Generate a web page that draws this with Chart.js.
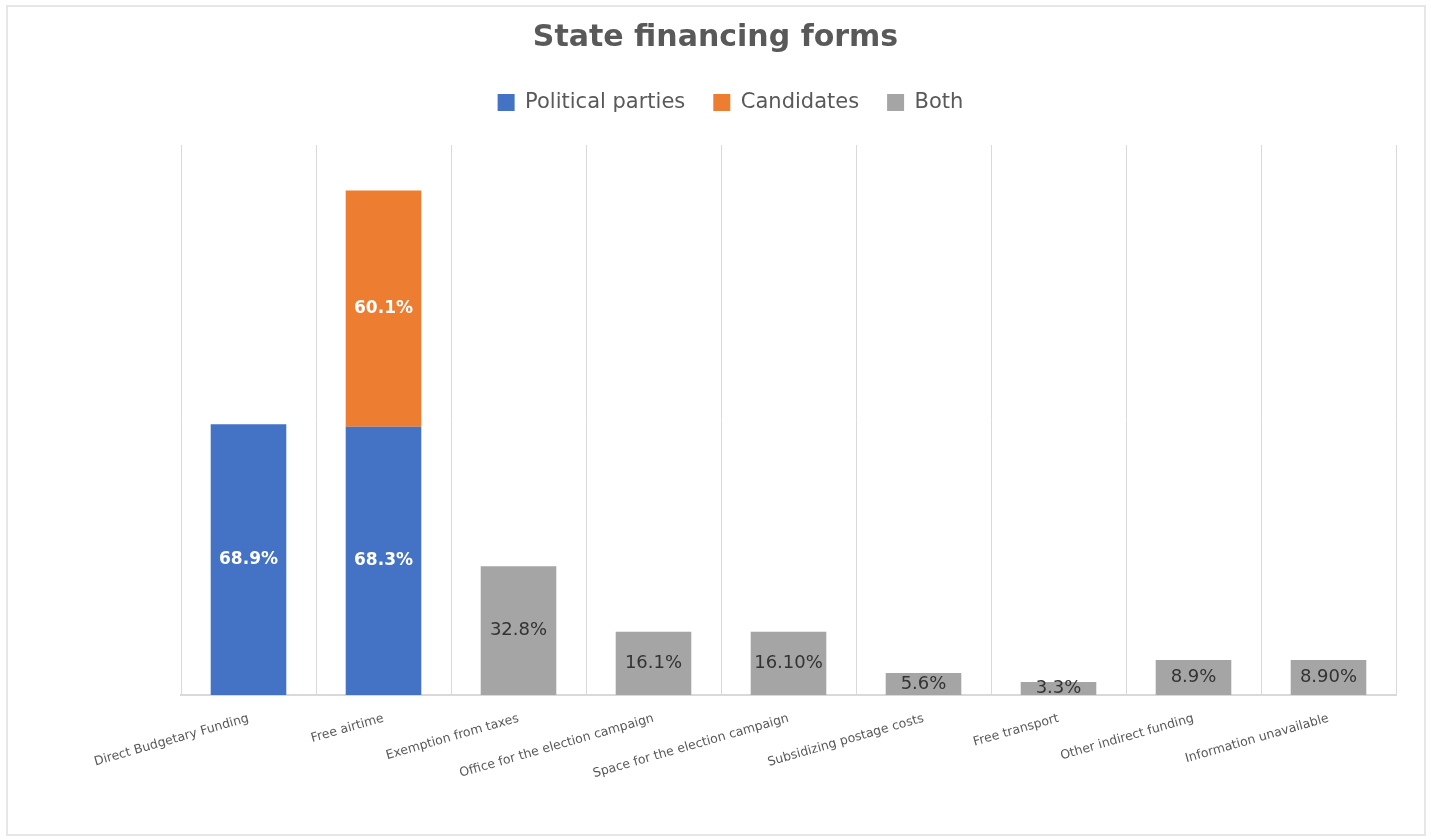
<!DOCTYPE html>
<html>
<head>
<meta charset="utf-8">
<script src="https://cdn.jsdelivr.net/npm/chart.js@4/dist/chart.umd.min.js"></script>
<style>
  html, body { margin: 0; padding: 0; background: #ffffff; }
  #wrap { position: relative; width: 1431px; height: 840px; }
  #frame {
    position: absolute; left: 6px; top: 5px; width: 1416px; height: 827px;
    border: 2px solid #e6e6e6; pointer-events: none;
  }
</style>
</head>
<body>
<div id="wrap">
  <canvas id="chart" width="1431" height="840"></canvas>
  <div id="frame"></div>
</div>
<script>
const categories = [
  "Direct Budgetary Funding",
  "Free airtime",
  "Exemption from taxes",
  "Office for the election campaign",
  "Space for the election campaign",
  "Subsidizing postage costs",
  "Free transport",
  "Other indirect funding",
  "Information unavailable",
];

const partyValues = [68.9, 68.3, null, null, null, null, null, null, null];
const candidateValues = [null, 60.1, null, null, null, null, null, null, null];
const bothValues = [null, null, 32.8, 16.1, 16.1, 5.6, 3.3, 8.9, 8.9];

// label text as printed on the original (some have an extra zero)
const partyLabels = ["68.9%", "68.3%", "", "", "", "", "", "", ""];
const candidateLabels = ["", "60.1%", "", "", "", "", "", "", ""];
const bothLabels = ["", "", "32.8%", "16.1%", "16.10%", "5.6%", "3.3%", "8.9%", "8.90%"];

const FONT = "'DejaVu Sans', sans-serif";

// push the plot area down below the legend, and nudge the legend right
const legendTweaks = {
  id: "legendTweaks",
  beforeInit(chart) {
    const fit = chart.legend.fit;
    chart.legend.fit = function () {
      fit.bind(chart.legend)();
      this.height += 22;
    };
  },
  afterLayout(chart) {
    chart.legend.left += 15;
    chart.legend.right += 15;
  },
};

const barLabels = {
  id: "barLabels",
  afterDatasetsDraw(chart) {
    const ctx = chart.ctx;
    ctx.save();
    ctx.textAlign = "center";
    ctx.textBaseline = "middle";
    chart.data.datasets.forEach((ds, i) => {
      const meta = chart.getDatasetMeta(i);
      meta.data.forEach((bar, j) => {
        const text = ds.labelTexts[j];
        if (!text || ds.data[j] == null) {
          return;
        }
        ctx.font = ds.labelFont;
        ctx.fillStyle = ds.labelColor;
        ctx.fillText(text, bar.x, (bar.y + bar.base) / 2);
      });
    });
    ctx.restore();
  },
};

new Chart(document.getElementById("chart"), {
  type: "bar",
  data: {
    labels: categories,
    datasets: [
      {
        label: "Political parties",
        data: partyValues,
        backgroundColor: "#4472c4",
        labelTexts: partyLabels,
        labelFont: "bold 17px " + FONT,
        labelColor: "#ffffff",
      },
      {
        label: "Candidates",
        data: candidateValues,
        backgroundColor: "#ed7d31",
        labelTexts: candidateLabels,
        labelFont: "bold 17px " + FONT,
        labelColor: "#ffffff",
      },
      {
        label: "Both",
        data: bothValues,
        backgroundColor: "#a5a5a5",
        labelTexts: bothLabels,
        labelFont: "18px " + FONT,
        labelColor: "#333333",
      },
    ],
  },
  options: {
    responsive: false,
    animation: false,
    layout: { padding: 0 },
    datasets: {
      bar: { categoryPercentage: 1, barPercentage: 0.56 },
    },
    scales: {
      x: {
        stacked: true,
        grid: {
          drawTicks: false,
          color: (ctx) => (ctx.index === categories.length ? "rgba(0,0,0,0)" : "#d9d9d9"),
          lineWidth: 1,
        },
        border: { display: true, color: "#d9d9d9", width: 2 },
        ticks: {
          color: "#595959",
          font: { family: FONT, size: 12.5 },
          minRotation: 16,
          maxRotation: 16,
          padding: 16,
          autoSkip: false,
        },
        afterFit(scale) {
          scale.height = 145;
        },
      },
      y: {
        stacked: true,
        min: 0,
        max: 140,
        ticks: { display: false },
        grid: { display: false },
        border: { display: false },
        afterFit(scale) {
          scale.width = 181;
        },
      },
      yRight: {
        type: "linear",
        position: "right",
        ticks: { display: false },
        grid: { display: false },
        border: { display: false },
        afterFit(scale) {
          scale.width = 35;
        },
      },
    },
    plugins: {
      title: {
        display: true,
        text: "State financing forms",
        color: "#595959",
        font: { family: FONT, size: 30, weight: "bold" },
        padding: { top: 20, bottom: 8 },
      },
      legend: {
        position: "top",
        labels: {
          color: "#595959",
          font: { family: FONT, size: 21 },
          boxWidth: 17,
          boxHeight: 17,
          padding: 28,
        },
      },
      tooltip: { enabled: false },
    },
  },
  plugins: [legendTweaks, barLabels],
});
</script>
</body>
</html>
